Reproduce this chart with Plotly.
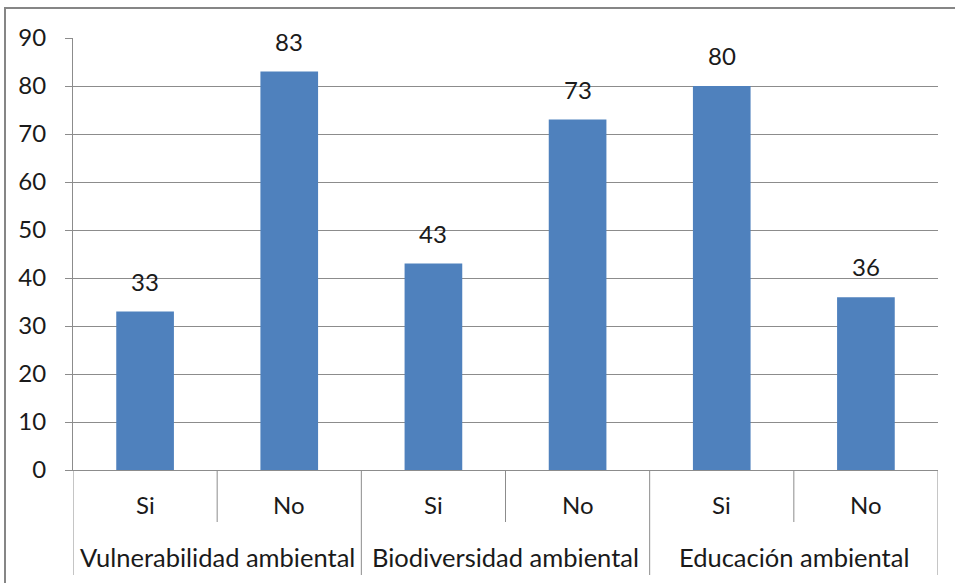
import plotly.graph_objects as go

groups = ["Vulnerabilidad ambiental", "Biodiversidad ambiental", "Educación ambiental"]
subcats = ["Si", "No", "Si", "No", "Si", "No"]
values = [33, 83, 43, 73, 80, 36]
y_ticks = [0, 10, 20, 30, 40, 50, 60, 70, 80, 90]

W, H = 955, 583
L, R, T, B = 73, 17, 38, 113
PW = W - L - R
PH = H - T - B

def px_x(p):
    return (p - L) / PW

def px_y(p):
    return (H - B - p) / PH

FONT = "Lato"
FS = 24
FS_CAT = 25.5
GRID = "#8c8c8c"
TXT = "#1a1a1a"

xs = list(range(len(values)))

fig = go.Figure()
fig.add_trace(go.Bar(
    x=xs, y=values,
    marker=dict(color="#4F81BD", line=dict(width=0)),
    width=0.4,
    hoverinfo="y",
))

shapes = []
for i in range(len(values) + 1):
    xv = i - 0.5
    is_group = (i % 2 == 0)
    shapes.append(dict(type="line", xref="x", yref="paper",
                       x0=xv, x1=xv, y0=0, y1=px_y(575 if is_group else 522),
                       line=dict(color=GRID, width=1)))
shapes.append(dict(type="rect", xref="paper", yref="paper",
                   x0=px_x(5), x1=px_x(975), y0=px_y(605), y1=px_y(8),
                   line=dict(color="#868686", width=2), fillcolor="rgba(0,0,0,0)"))

annotations = []
for i, v in enumerate(values):
    annotations.append(dict(x=i, y=v, xref="x", yref="y", text=str(v),
                            showarrow=False, font=dict(family=FONT, size=FS, color=TXT),
                            xanchor="center", yanchor="bottom", yshift=14))
for i, s in enumerate(subcats):
    annotations.append(dict(x=i, y=px_y(504), xref="x", yref="paper", text=s,
                            showarrow=False, font=dict(family=FONT, size=FS, color=TXT),
                            xanchor="center", yanchor="middle"))
for g, name in enumerate(groups):
    annotations.append(dict(x=2 * g + 0.5, y=px_y(557), xref="x", yref="paper", text=name,
                            showarrow=False, font=dict(family=FONT, size=FS_CAT, color=TXT),
                            xanchor="center", yanchor="middle"))

fig.update_layout(
    width=W, height=H,
    margin=dict(l=L, r=R, t=T, b=B, pad=0),
    paper_bgcolor="white", plot_bgcolor="white",
    showlegend=False,
    shapes=shapes,
    annotations=annotations,
    xaxis=dict(range=[-0.5, 5.5], showticklabels=False, showgrid=False,
               zeroline=False, showline=True, linecolor=GRID, linewidth=1,
               ticks="", fixedrange=True),
    yaxis=dict(range=[0, 90], tickvals=y_ticks, showgrid=True, gridcolor=GRID,
               gridwidth=1, zeroline=False, showline=True, linecolor=GRID,
               linewidth=1, ticks="outside", ticklen=7, tickcolor=GRID,
               ticklabelstandoff=14,
               tickfont=dict(family=FONT, size=FS, color=TXT)),
)

fig.write_html("out.html", config={"displayModeBar": False},
               post_script="document.body.style.margin='0';document.body.style.padding='0';")
